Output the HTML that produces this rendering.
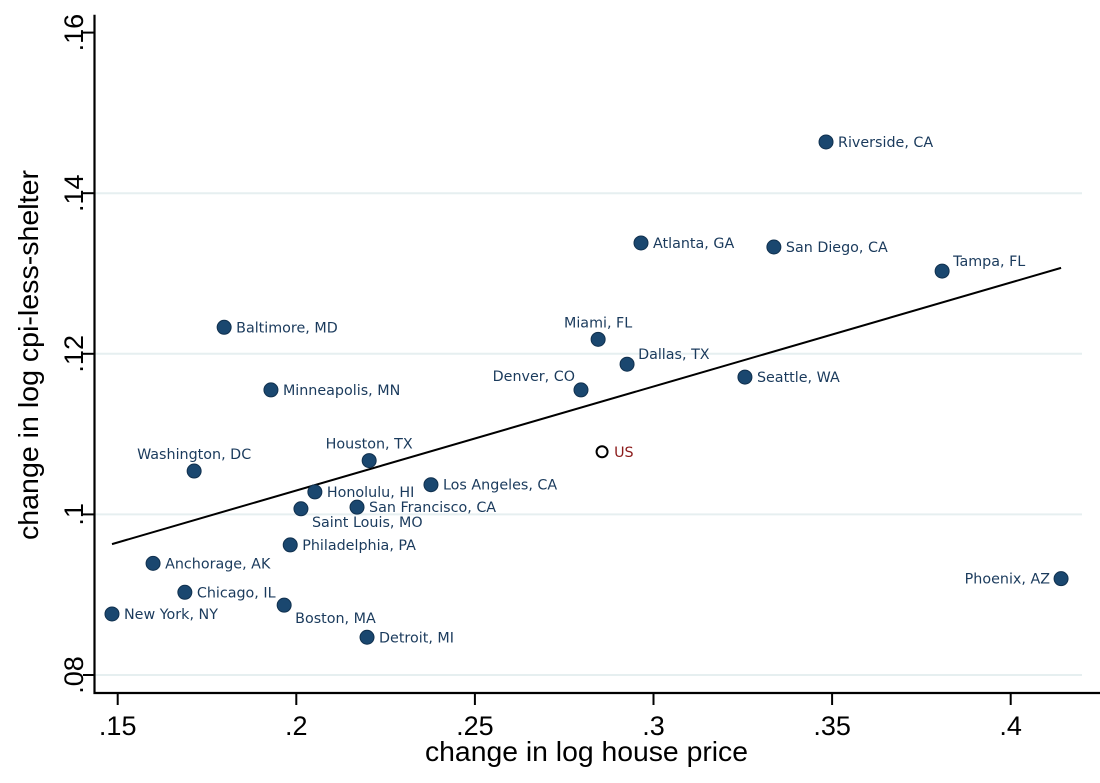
<!DOCTYPE html>
<html><head><meta charset="utf-8"><style>
body{margin:0;background:#fff}
svg text{font-family:"Liberation Sans",sans-serif}
.pl{font-family:"DejaVu Sans","Liberation Sans",sans-serif;font-size:14.3px;fill:#1a3a5c}
</style></head><body>
<svg id="chart" width="1100" height="778" xmlns="http://www.w3.org/2000/svg"></svg>
<script>
const cities=["Riverside, CA","Atlanta, GA","San Diego, CA","Tampa, FL","Baltimore, MD","Miami, FL","Dallas, TX","Seattle, WA","Denver, CO","Minneapolis, MN","Houston, TX","Washington, DC","Los Angeles, CA","Honolulu, HI","San Francisco, CA","Saint Louis, MO","Philadelphia, PA","Anchorage, AK","Chicago, IL","New York, NY","Boston, MA","Detroit, MI","Phoenix, AZ","US"];
const housePrice=[.3483,.2965,.3337,.3808,.1798,.2845,.2926,.3256,.2797,.1929,.2204,.1714,.2377,.2052,.2170,.2013,.1983,.1599,.1688,.1484,.1966,.2198,.4141,.2856];
const cpiLessShelter=[.14638,.1338,.1333,.1303,.1233,.1218,.1187,.1171,.1155,.1155,.1067,.1054,.1037,.1028,.1009,.1007,.0962,.0939,.0903,.0876,.0887,.0847,.0920,.1078];
const labelPos=["r","r","r","ur","r","a","ur","r","al","r","a","a","r","r","r","br","r","r","r","r","br","r","l","r"];
const xTicks=[.15,.2,.25,.3,.35,.4];
const xTickLabels=[".15",".2",".25",".3",".35",".4"];
const yTicks=[.08,.1,.12,.14,.16];
const yTickLabels=[".08",".1",".12",".14",".16"];
const fitX=[.1484,.4141];
const fitY=[.0963,.1307];

const X=v=>117.7+(v-.15)*3572;
const Y=v=>675-(v-.08)*8030;
const svg=document.getElementById('chart');
const NS="http://www.w3.org/2000/svg";
function mk(t,a,p){const e=document.createElementNS(NS,t);for(const k in a)e.setAttribute(k,a[k]);(p||svg).appendChild(e);return e;}

yTicks.forEach((t,i)=>{
  if(t<.16){const g=mk('line',{x1:95,x2:1082,y1:Y(t),y2:Y(t),stroke:'#e6eff0','stroke-width':2});
  
  }
  const k=mk('line',{x1:83,x2:95,y1:Y(t),y2:Y(t),stroke:'#000','stroke-width':2});
  
  
  const tx=mk('text',{x:0,y:0,'font-size':27,'text-anchor':'middle',transform:`translate(${83},${Y(t)}) rotate(-90)`});
  tx.textContent=yTickLabels[i];
  
  
});
xTicks.forEach((t,i)=>{
  const k=mk('line',{x1:X(t),x2:X(t),y1:693,y2:705,stroke:'#000','stroke-width':2});
  
  
  const tx=mk('text',{x:X(t),y:735,'font-size':27,'text-anchor':'middle'});
  tx.textContent=xTickLabels[i];
  
  
});
const ax=mk('path',{d:'M94.5,14.7 V693 H1100',fill:'none',stroke:'#000','stroke-width':2.2});


const xt=mk('text',{x:425,y:761,'font-size':28,textLength:323,lengthAdjust:'spacingAndGlyphs'});
xt.textContent='change in log house price';


const yt=mk('text',{x:-185,y:0,'font-size':28,textLength:370,lengthAdjust:'spacingAndGlyphs',transform:'translate(38,355) rotate(-90)'});
yt.textContent='change in log cpi-less-shelter';



const fl=mk('line',{x1:X(fitX[0]),y1:Y(fitY[0]),x2:X(fitX[1]),y2:Y(fitY[1]),stroke:'#000','stroke-width':2});



cities.forEach((c,i)=>{
  const cx=X(housePrice[i]),cy=Y(cpiLessShelter[i]);
  const us=c==='US';
  const pt=mk('circle',{cx,cy,r:us?5.5:7,fill:us?'#fff':'#1a476f',stroke:us?'#000':'#10304e','stroke-width':us?2:1});
  
  
  let tx=cx+12,ty=cy+5,anc='start';
  const p=labelPos[i];
  if(p==='ur'){ty=cy-5;tx=cx+11;}
  if(p==='a'){tx=cx;ty=cy-12;anc='middle';}
  if(p==='al'){tx=cx-6;ty=cy-9;anc='end';}
  if(p==='br'){tx=cx+11;ty=cy+18;}
  if(p==='l'){tx=cx-11;anc='end';}
  const t=mk('text',{x:tx,y:ty,'text-anchor':anc,class:'pl'});
  if(us)t.setAttribute('style','fill:#8b1a1a');
  t.textContent=c;
  
  
});
</script>
</body></html>
